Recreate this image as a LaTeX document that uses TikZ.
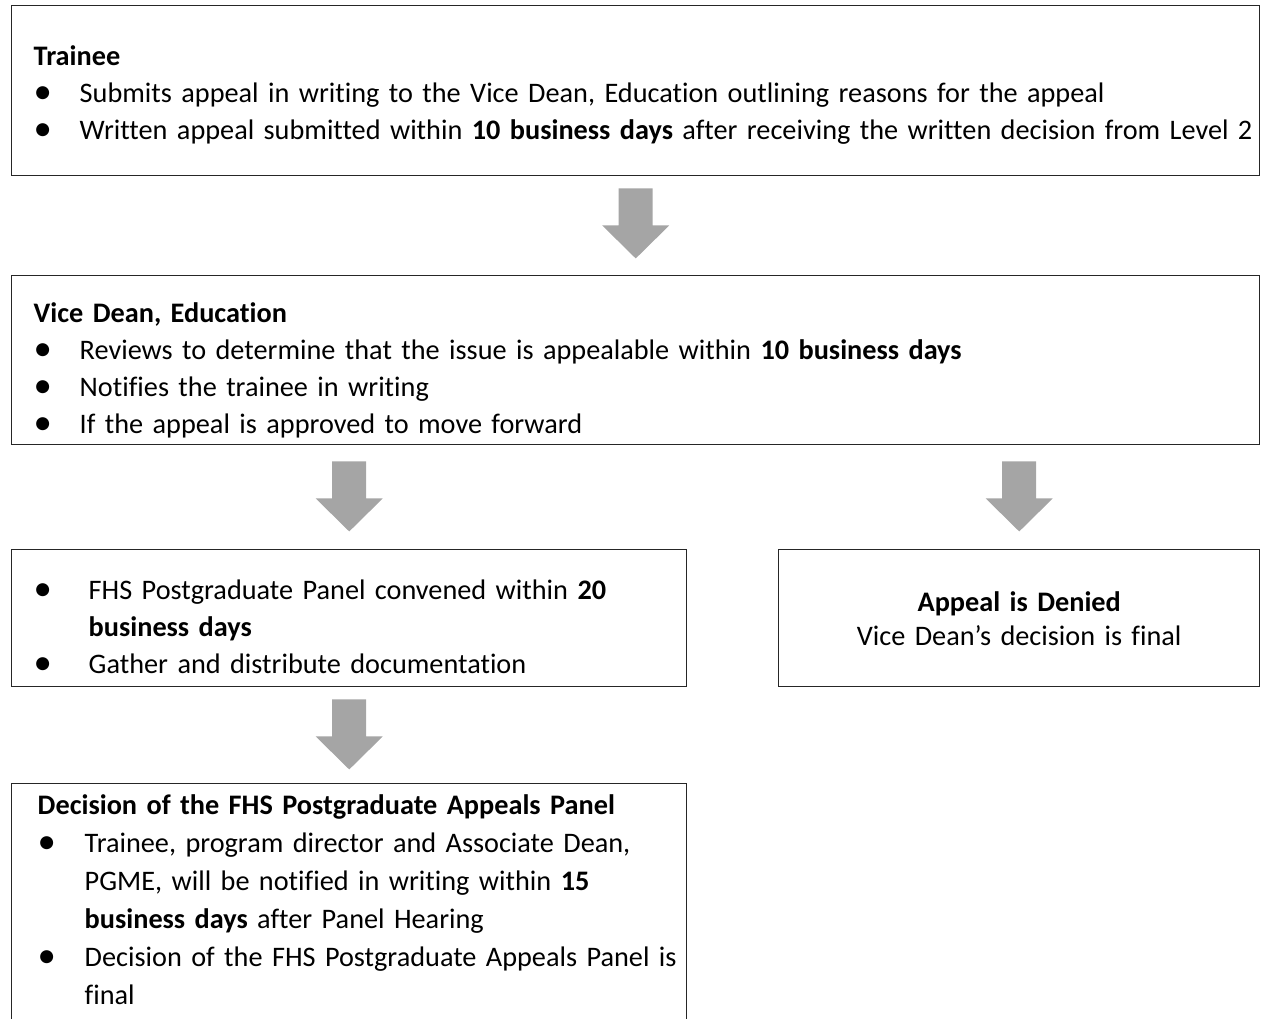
\documentclass[tikz,border=0pt]{standalone}
\usepackage{fontspec}
\setmainfont{Carlito}[Ligatures={TeX,NoCommon}]
\usetikzlibrary{calc}

\definecolor{blockgray}{HTML}{A5A5A5}
\tikzset{
  box/.style={draw=black!85, line width=1.1pt, inner xsep=0pt, inner ysep=0pt,
    anchor=north west, align=left, font=\fontsize{21.2}{27.75}\selectfont},
  blockarrow/.style={fill=blockgray},
}
% bullet line with hanging indent
\newcommand{\bitem}[2]{\par\noindent\hangindent=#1\hangafter=1\makebox[#1][l]{\raisebox{-0.04em}{\scalebox{1.3}{\textbullet}}}#2}
% grey block arrow from box #1 down to box #2, #3 = gap below #1
\newcommand{\blockarr}[3]{%
  \coordinate (t) at ($(#1.south -| #2.north)+(0,#3)$);
  \fill[blockarrow] ($(t)+(-17,0)$) -- ($(t)+(17,0)$) -- ($(t)+(17,37)$) -- ($(t)+(33.5,37)$)
    -- ($(t)+(0,70)$) -- ($(t)+(-33.5,37)$) -- ($(t)+(-17,37)$) -- cycle;}

\begin{document}
\begin{tikzpicture}[x=0.75pt,y=-0.75pt]
\useasboundingbox (0,0) rectangle (1265,1019);
\clip (0,0) rectangle (1265,1019);

\node[box, minimum width=936pt, minimum height=127.5pt, text width=936pt] (trainee) at (11,5)
  {\leftskip=16.5pt \rule{0pt}{21pt}{\bfseries Trainee}
   \bitem{34.5pt}{Submits appeal in writing to the Vice Dean, Education outlining reasons for the appeal}
   \bitem{34.5pt}{Written appeal submitted within \textbf{10 business days} after receiving the written decision from Level 2}\par};

\node[box, minimum width=936pt, minimum height=126.75pt, text width=936pt] (vicedean) at (11,275)
  {\leftskip=16.5pt \rule{0pt}{30pt}{\bfseries Vice Dean, Education}
   \bitem{34.5pt}{Reviews to determine that the issue is appealable within \textbf{10 business days}}
   \bitem{34.5pt}{Notifies the trainee in writing}
   \bitem{34.5pt}{If the appeal is approved to move forward}\par};

\node[box, minimum width=506.25pt, minimum height=102.75pt, text width=506.25pt] (panel) at (11,549)
  {\leftskip=16.5pt
   \bitem{41.25pt}{FHS Postgraduate Panel convened within \textbf{20}\newline\textbf{business days}}
   \bitem{41.25pt}{Gather and distribute documentation}\par};

\node[box, minimum width=360.75pt, minimum height=102.75pt, text width=360.75pt, align=center,
  font=\fontsize{21.2}{25.5}\selectfont] (denied) at (778,549)
  {\textbf{Appeal is Denied}\\Vice Dean’s decision is final};

\node[box, minimum width=506.25pt, inner ysep=8pt, text width=506.25pt,
  font=\fontsize{21.2}{28.5}\selectfont] (decision) at (11,783)
  {\leftskip=19.5pt {\bfseries Decision of the FHS Postgraduate Appeals Panel}
   \bitem{35.25pt}{Trainee, program director and Associate Dean,\newline PGME, will be notified in writing within \textbf{15}\newline\textbf{business days} after Panel Hearing}
   \bitem{35.25pt}{Decision of the FHS Postgraduate Appeals Panel is\newline final}\par
   \rule{0pt}{20pt}\par};

\blockarr{trainee}{vicedean}{12}
\blockarr{vicedean}{panel}{16}
\blockarr{vicedean}{denied}{16}
\blockarr{panel}{decision}{12}
\end{tikzpicture}
\end{document}
